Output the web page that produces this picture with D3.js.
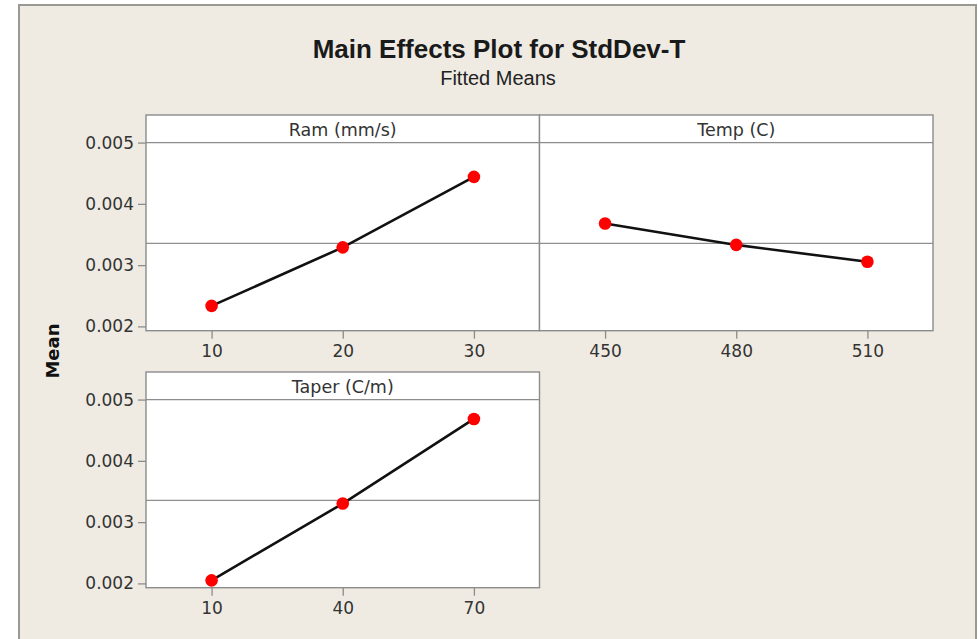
<!DOCTYPE html>
<html>
<head>
<meta charset="utf-8">
<script src="https://cdn.jsdelivr.net/npm/d3@7"></script>
<style>
  html, body { margin: 0; padding: 0; background: #ffffff; }
  svg { display: block; }
</style>
</head>
<body>
<svg id="chart" width="978" height="639"></svg>
<script>
// Fitted means of StdDev-T for each factor level
const factorNames = ["Ram (mm/s)", "Temp (C)", "Taper (C/m)"];
const ramLevels   = ["10", "20", "30"];
const ramMeans    = [0.002335, 0.00329, 0.00444];
const tempLevels  = ["450", "480", "510"];
const tempMeans   = [0.00368, 0.00333, 0.003054];
const taperLevels = ["10", "40", "70"];
const taperMeans  = [0.00205, 0.003303, 0.004684];
const yTickValues = [0.002, 0.003, 0.004, 0.005];
const yTickLabels = ["0.002", "0.003", "0.004", "0.005"];

const titleText = "Main Effects Plot for StdDev-T";
const subtitleText = "Fitted Means";
const yAxisTitle = "Mean";

// overall mean used for the horizontal reference line
const grandMean = d3.mean(ramMeans);

const factors = [
  { name: factorNames[0], levels: ramLevels,   means: ramMeans },
  { name: factorNames[1], levels: tempLevels,  means: tempMeans },
  { name: factorNames[2], levels: taperLevels, means: taperMeans }
];

const svg = d3.select("#chart");

// window frame and background
svg.append("rect")
  .attr("x", 19).attr("y", 5).attr("width", 957).attr("height", 640)
  .attr("fill", "#efebe2").attr("stroke", "#9a9893").attr("stroke-width", 2);

// titles
svg.append("text")
  .attr("x", 499).attr("y", 58).attr("text-anchor", "middle")
  .attr("font-family", "Liberation Sans, Arial, sans-serif")
  .attr("font-weight", "bold").attr("font-size", 26).attr("fill", "#1a1a1a")
  .text(titleText);
svg.append("text")
  .attr("x", 498).attr("y", 85).attr("text-anchor", "middle")
  .attr("font-family", "Liberation Sans, Arial, sans-serif")
  .attr("font-size", 20).attr("fill", "#222")
  .text(subtitleText);

svg.append("text")
  .attr("transform", "translate(59,351) rotate(-90)")
  .attr("text-anchor", "middle")
  .attr("font-family", "DejaVu Sans, Verdana, sans-serif")
  .attr("font-weight", "bold").attr("font-size", 18).attr("fill", "#111")
  .text(yAxisTitle);

// panel layout
const panelW = 393.5, panelH = 215.7;
const panelPos = [
  { x: 146,   y: 115, yAxis: true },
  { x: 539.5, y: 115, yAxis: false },
  { x: 146,   y: 372, yAxis: true }
];

const y = d3.scaleLinear().domain([0.00193, 0.00545]).range([panelH, 0]);
const stripH = y(0.005);
const frameColor = "#8c8c8c";
const tickFont = "DejaVu Sans, Verdana, sans-serif";

factors.forEach((f, i) => {
  const pos = panelPos[i];
  const g = svg.append("g").attr("transform", `translate(${pos.x},${pos.y})`);

  const x = d3.scalePoint().domain(f.levels).range([0, panelW]).padding(0.5);

  // plotting area
  g.append("rect").attr("width", panelW).attr("height", panelH).attr("fill", "#ffffff");

  // strip with factor name
  g.append("line").attr("x1", 0).attr("x2", panelW).attr("y1", stripH).attr("y2", stripH)
    .attr("stroke", frameColor).attr("stroke-width", 1.3);
  g.append("text")
    .attr("x", panelW / 2).attr("y", stripH / 2 + 1).attr("dy", "0.35em")
    .attr("text-anchor", "middle")
    .attr("font-family", tickFont).attr("font-size", 17.5).attr("fill", "#333")
    .text(f.name);

  // reference line at the grand mean
  g.append("line").attr("x1", 0).attr("x2", panelW)
    .attr("y1", y(grandMean)).attr("y2", y(grandMean))
    .attr("stroke", "#8f8f8f").attr("stroke-width", 1.2);

  // x axis
  const xAxis = g.append("g").attr("transform", `translate(0,${panelH})`)
    .call(d3.axisBottom(x).tickSize(8).tickPadding(6));
  xAxis.select(".domain").remove();
  xAxis.selectAll(".tick line").attr("stroke", frameColor).attr("stroke-width", 1.3);
  xAxis.selectAll(".tick text").attr("font-family", tickFont).attr("font-size", 17).attr("fill", "#333");

  // y axis
  if (pos.yAxis) {
    const yAxis = g.append("g")
      .call(d3.axisLeft(y).tickValues(yTickValues)
        .tickFormat((d, k) => yTickLabels[k]).tickSize(8).tickPadding(4));
    yAxis.select(".domain").remove();
    yAxis.selectAll(".tick line").attr("stroke", frameColor).attr("stroke-width", 1.3);
    yAxis.selectAll(".tick text").attr("font-family", tickFont).attr("font-size", 17).attr("fill", "#333");
  }

  // main effect line and level means
  const pts = f.levels.map((lv, k) => ({ lv, m: f.means[k] }));
  g.append("path").datum(pts)
    .attr("d", d3.line().x(d => x(d.lv)).y(d => y(d.m)))
    .attr("fill", "none").attr("stroke", "#111").attr("stroke-width", 2.6);
  g.selectAll("circle").data(pts).join("circle")
    .attr("cx", d => x(d.lv)).attr("cy", d => y(d.m)).attr("r", 6.3)
    .attr("fill", "#ff0000");

  // frame
  g.append("rect").attr("width", panelW).attr("height", panelH)
    .attr("fill", "none").attr("stroke", frameColor).attr("stroke-width", 1.4);
});
</script>
</body>
</html>
